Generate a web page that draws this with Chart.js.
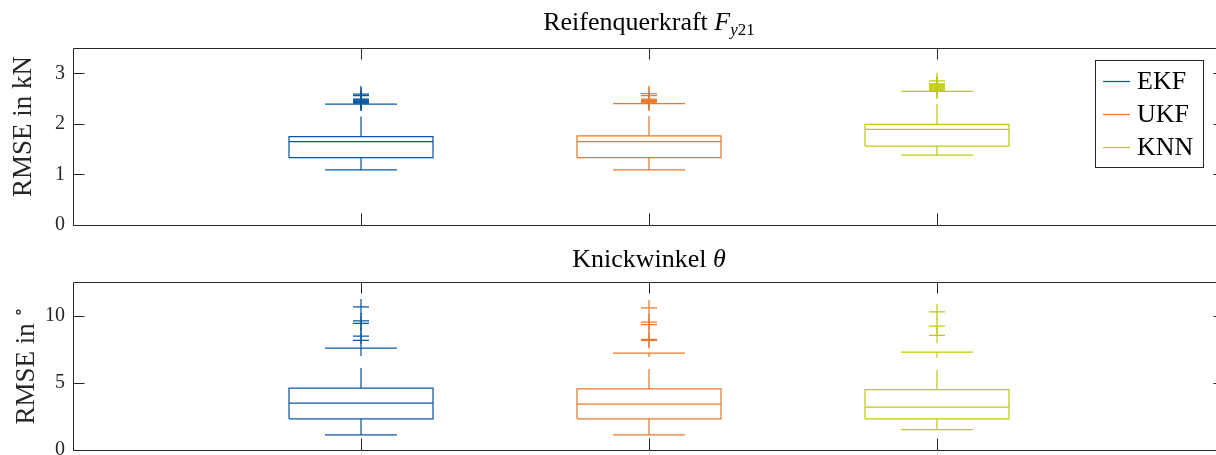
<!DOCTYPE html>
<html>
<head>
<meta charset="utf-8">
<script src="https://cdn.jsdelivr.net/npm/chart.js@4.4.1/dist/chart.umd.min.js"></script>
<style>
  body { margin: 0; background: #fff; overflow: hidden; width: 1216px; height: 455px; position: relative; }
  canvas { position: absolute; left: 0; }
  .txt { position: absolute; font-family: "Liberation Serif", "DejaVu Serif", serif; color: #000; white-space: nowrap; line-height: 1; }
  .title { font-size: 26px; width: 600px; left: 349px; text-align: center; }
  .ylab { font-size: 27px; color: #262626; transform: rotate(-90deg); transform-origin: center center; }
  sub { font-size: 17px; vertical-align: -5px; }
  sup { font-size: 18px; vertical-align: 10px; }
</style>
</head>
<body>
<canvas id="fyChart" width="1240" height="255" style="top:0"></canvas>
<canvas id="thetaChart" width="1240" height="240" style="top:240px"></canvas>

<div class="txt title" style="top:9px">Reifenquerkraft <i>F</i><sub><i>y</i>21</sub></div>
<div class="txt title" style="top:246px">Knickwinkel <i>&theta;</i></div>
<div class="txt ylab" id="fyLabel">RMSE in kN</div>
<div class="txt ylab" id="thetaLabel">RMSE in <sup>&#8728;</sup></div>

<script>
// groups and colours
var groups = ['EKF', 'UKF', 'KNN'];
var groupPos = [1, 2, 3];
var colors = ['#0a58a3', '#e8792b', '#bfcc05'];

// Reifenquerkraft (kN)
var fyLo  = [1.09, 1.09, 1.38];
var fyQ1  = [1.33, 1.33, 1.56];
var fyMed = [1.65, 1.65, 1.89];
var fyQ3  = [1.75, 1.76, 1.99];
var fyHi  = [2.39, 2.40, 2.64];
var fyOutliers = [
  [2.41, 2.42, 2.44, 2.45, 2.47, 2.48, 2.49, 2.56, 2.59],
  [2.41, 2.43, 2.44, 2.46, 2.47, 2.49, 2.56, 2.60],
  [2.65, 2.67, 2.69, 2.71, 2.73, 2.75, 2.77, 2.79, 2.85]
];
var fyTicks = [0, 1, 2, 3];

// Knickwinkel (deg)
var thLo  = [1.12, 1.12, 1.52];
var thQ1  = [2.32, 2.32, 2.32];
var thMed = [3.49, 3.42, 3.19];
var thQ3  = [4.61, 4.54, 4.49];
var thHi  = [7.58, 7.20, 7.28];
var thOutliers = [
  [8.15, 8.47, 9.42, 9.60, 10.64],
  [8.15, 8.23, 9.33, 9.52, 10.57],
  [8.53, 9.22, 10.27]
];
var thetaTicks = [0, 5, 10];

var BOX_HALF = 0.25;
var CAP_HALF = 0.125;
var LINE_W = 1.25;
var AXIS_COLOR = '#262626';
var FONT = '"Liberation Serif", "DejaVu Serif", serif';

function lineSet(data, color, dash) {
  return {
    type: 'scatter',
    data: data,
    showLine: true,
    borderColor: color,
    borderWidth: LINE_W,
    borderDash: dash || [],
    pointRadius: 0,
    fill: false
  };
}

function boxDatasets(lo, q1, med, q3, hi, outliers) {
  var sets = [];
  for (var i = 0; i < groups.length; i++) {
    var x = groupPos[i], c = colors[i];
    // box outline + median
    sets.push(lineSet([
      {x: x - BOX_HALF, y: q1[i]}, {x: x + BOX_HALF, y: q1[i]},
      {x: x + BOX_HALF, y: q3[i]}, {x: x - BOX_HALF, y: q3[i]},
      {x: x - BOX_HALF, y: q1[i]}
    ], c));
    sets.push(lineSet([{x: x - BOX_HALF, y: med[i]}, {x: x + BOX_HALF, y: med[i]}], c));
    // whiskers (dashed like matlab)
    sets.push(lineSet([{x: x, y: q3[i]}, {x: x, y: hi[i]}], c, [20, 12]));
    sets.push(lineSet([{x: x, y: q1[i]}, {x: x, y: lo[i]}], c, [20, 12]));
    // caps
    sets.push(lineSet([{x: x - CAP_HALF, y: hi[i]}, {x: x + CAP_HALF, y: hi[i]}], c));
    sets.push(lineSet([{x: x - CAP_HALF, y: lo[i]}, {x: x + CAP_HALF, y: lo[i]}], c));
    // outliers
    sets.push({
      type: 'scatter',
      data: outliers[i].map(function (v) { return {x: x, y: v}; }),
      pointStyle: 'cross',
      pointRadius: 8,
      borderColor: c,
      borderWidth: LINE_W,
      showLine: false
    });
  }
  return sets;
}

// frame with inward ticks on all four sides
var framePlugin = {
  id: 'frame',
  afterDraw: function (chart) {
    var ctx = chart.ctx, a = chart.chartArea;
    var tl = 11.5;
    ctx.save();
    ctx.strokeStyle = AXIS_COLOR;
    ctx.lineWidth = 1;
    ctx.beginPath();
    ctx.rect(Math.round(a.left) + 0.5, Math.round(a.top) + 0.5,
             Math.round(a.right - a.left), Math.round(a.bottom - a.top));
    chart.scales.y.ticks.forEach(function (t) {
      var y = Math.round(chart.scales.y.getPixelForValue(t.value)) + 0.5;
      ctx.moveTo(a.left, y); ctx.lineTo(a.left + tl, y);
      ctx.moveTo(a.right, y); ctx.lineTo(a.right - tl, y);
    });
    groupPos.forEach(function (p) {
      var x = Math.round(chart.scales.x.getPixelForValue(p)) + 0.5;
      ctx.moveTo(x, a.bottom); ctx.lineTo(x, a.bottom - tl);
      ctx.moveTo(x, a.top); ctx.lineTo(x, a.top + tl);
    });
    ctx.stroke();
    ctx.restore();
  }
};

var legendPlugin = {
  id: 'boxLegend',
  afterDraw: function (chart) {
    if (!chart.options.plugins.boxLegend.show) return;
    var ctx = chart.ctx, a = chart.chartArea;
    var right = a.right - 22, top = a.top + 12;
    var w = 108, h = 107;
    var left = right - w;
    ctx.save();
    ctx.fillStyle = '#fff';
    ctx.fillRect(left, top, w, h);
    ctx.strokeStyle = AXIS_COLOR;
    ctx.lineWidth = 1;
    ctx.strokeRect(Math.round(left) + 0.5, Math.round(top) + 0.5, w, h);
    ctx.font = '26px ' + FONT;
    ctx.textBaseline = 'middle';
    for (var i = 0; i < groups.length; i++) {
      var y = top + 21 + i * 33;
      ctx.strokeStyle = colors[i];
      ctx.lineWidth = LINE_W;
      ctx.beginPath();
      ctx.moveTo(left + 8, Math.round(y) + 0.5);
      ctx.lineTo(left + 35, Math.round(y) + 0.5);
      ctx.stroke();
      ctx.fillStyle = '#000';
      ctx.fillText(groups[i], left + 42, y + 1);
    }
    ctx.restore();
  }
};

function makeChart(id, sets, yMax, ticks, padding, showLegend) {
  return new Chart(document.getElementById(id), {
    type: 'scatter',
    data: { datasets: sets },
    options: {
      responsive: false,
      animation: false,
      devicePixelRatio: 1,
      events: [],
      layout: { padding: padding },
      plugins: {
        legend: { display: false },
        tooltip: { enabled: false },
        boxLegend: { show: showLegend }
      },
      scales: {
        x: { type: 'linear', min: 0, max: 4, display: false },
        y: {
          type: 'linear', min: 0, max: yMax,
          afterBuildTicks: function (s) { s.ticks = ticks.map(function (v) { return {value: v}; }); },
          afterFit: function (s) { s.width = 73; },
          grid: { display: false, drawTicks: false },
          border: { display: false },
          ticks: { padding: 8, color: AXIS_COLOR, font: { family: FONT, size: 20 } }
        }
      }
    },
    plugins: [framePlugin, legendPlugin]
  });
}

makeChart('fyChart', boxDatasets(fyLo, fyQ1, fyMed, fyQ3, fyHi, fyOutliers),
  3.5, fyTicks, {top: 48, right: 15, bottom: 30, left: 0}, true);
makeChart('thetaChart', boxDatasets(thLo, thQ1, thMed, thQ3, thHi, thOutliers),
  12.5, thetaTicks, {top: 42, right: 15, bottom: 30, left: 0}, false);

// place rotated y labels around their centres
function placeLabel(id, cx, cy) {
  var el = document.getElementById(id);
  el.style.left = (cx - el.offsetWidth / 2) + 'px';
  el.style.top = (cy - el.offsetHeight / 2) + 'px';
}
placeLabel('fyLabel', 22, 126);
placeLabel('thetaLabel', 24, 366);
</script>
</body>
</html>
